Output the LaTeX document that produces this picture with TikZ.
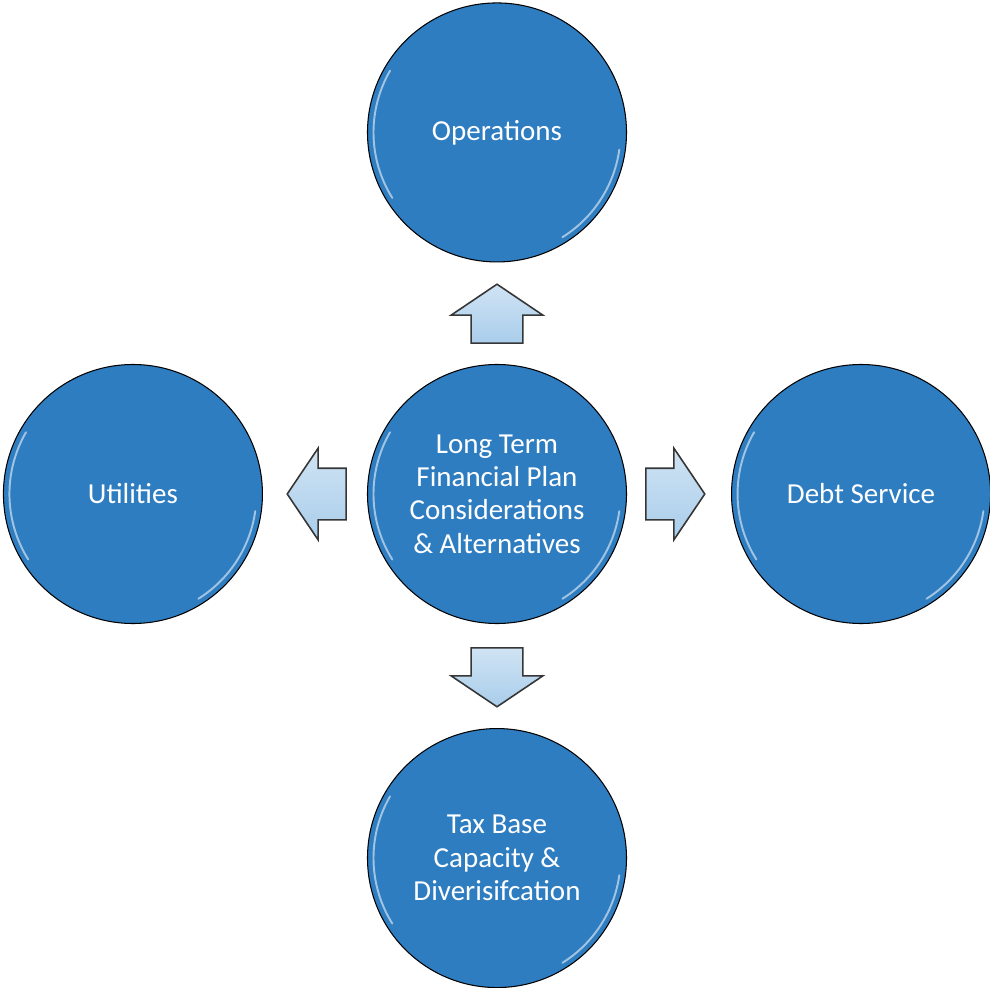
\documentclass[tikz,border=0pt]{standalone}
\usepackage{fontspec}
\setmainfont{Carlito}
\usepackage{xcolor}
\usepackage{tikz}
\usetikzlibrary{positioning,calc,shapes.arrows}
\definecolor{planBlue}{HTML}{2F7DC1}
\definecolor{planArrow}{HTML}{A9CDEB}
\definecolor{planEdge}{HTML}{363636}

\begin{document}
\begin{tikzpicture}[font=\fontsize{16.5}{19}\selectfont, node distance=2.08cm,
  topic/.style={circle,draw=black,line width=0.6pt,fill=planBlue,text=white,
    minimum size=5.18cm,inner sep=0pt,align=center},
  gloss/.style={white,line width=1.1pt,line cap=round,opacity=0.55},
  blockarrow/.style={single arrow,draw=planEdge,line width=0.9pt,anchor=tail,
    top color=planArrow!55!white,bottom color=planArrow,
    minimum height=1.18cm,minimum width=1.8cm,inner xsep=0pt,inner ysep=0.5cm,
    single arrow head extend=0.4cm,single arrow tip angle=112}]
\useasboundingbox (-9.94,-9.86) rectangle (9.86,9.88);
% centre topic and the four around it
\node[topic] (plan) at (0,0) {Long Term\\Financial Plan\\Considerations\\\& Alternatives};
\node[topic,above=of plan,yshift=-0.05cm] (ops) {\raisebox{-2pt}{Operations}};
\node[topic,left=of plan] (util) {Utilities};
\node[topic,right=of plan] (debt) {Debt Service};
\node[topic,below=of plan] (tax) {Tax Base\\Capacity \&\\Diverisifcation};
% glossy rims
\foreach \n in {plan,ops,util,debt,tax}{
  \draw[gloss] ([shift={(150:2.47)}]\n.center) arc[start angle=150,end angle=212,radius=2.47];
  \draw[gloss] ([shift={(-8:2.47)}]\n.center) arc[start angle=-8,end angle=-58,radius=2.47];
}
% block arrows from the centre outwards
\node[blockarrow,rotate=90] (toops) at ($(plan)!3cm!(ops)$) {};
\node[blockarrow,rotate=180] (toutil) at ($(plan)!3cm!(util)$) {};
\node[blockarrow] (todebt) at ($(plan)!2.96cm!(debt)$) {};
\node[blockarrow,rotate=-90] (totax) at ($(plan)!3.06cm!(tax)$) {};
\end{tikzpicture}
\end{document}
